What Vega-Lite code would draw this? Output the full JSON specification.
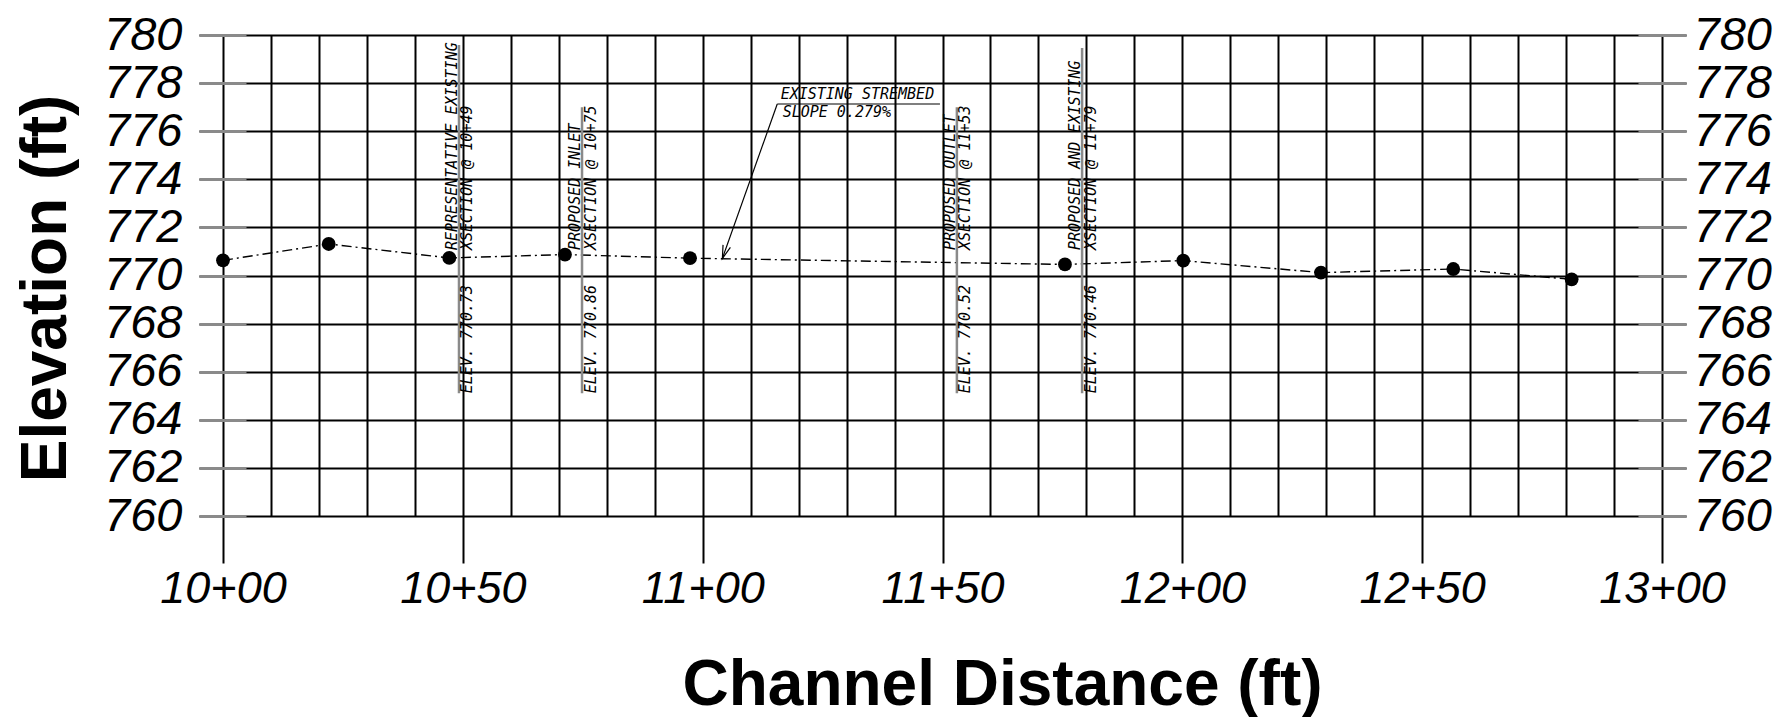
{
  "$schema": "https://vega.github.io/schema/vega-lite/v6.json",
  "width": 1487,
  "height": 481,
  "autosize": {"type": "none"},
  "padding": {"left": 199, "top": 35, "right": 94, "bottom": 201},
  "background": "white",
  "config": {"view": {"stroke": null}},
  "datasets": {
    "profile": [
      {"sta": 1000.0, "elev": 770.63},
      {"sta": 1022.04, "elev": 771.31},
      {"sta": 1047.18, "elev": 770.73},
      {"sta": 1071.3, "elev": 770.87},
      {"sta": 1097.36, "elev": 770.72},
      {"sta": 1175.53, "elev": 770.46},
      {"sta": 1200.19, "elev": 770.62},
      {"sta": 1228.9, "elev": 770.12},
      {"sta": 1256.48, "elev": 770.27},
      {"sta": 1281.16, "elev": 769.84}
    ],
    "stations": [
      {"sta": 1049.2, "top": 779.58, "bottom": 765.1, "start": 771.06, "line1": "REPRESENTATIVE EXISTING", "line2": "XSECTION @ 10+49", "elevText": "ELEV. 770.73"},
      {"sta": 1074.85, "top": 777.0, "bottom": 765.1, "start": 771.06, "line1": "PROPOSED INLET", "line2": "XSECTION @ 10+75", "elevText": "ELEV. 770.86"},
      {"sta": 1153.0, "top": 777.0, "bottom": 765.1, "start": 771.06, "line1": "PROPOSED OUTLET", "line2": "XSECTION @ 11+53", "elevText": "ELEV. 770.52"},
      {"sta": 1179.1, "top": 779.46, "bottom": 765.1, "start": 771.06, "line1": "PROPOSED AND EXISTING", "line2": "XSECTION @ 11+79", "elevText": "ELEV. 770.46"}
    ],
    "note": [
      {"sta": 1116.26, "elev": 777.34, "text": "EXISTING STREMBED"},
      {"sta": 1116.68, "elev": 776.58, "text": "SLOPE 0.279%"}
    ],
    "noteLine": [
      {"sta": 1115.55, "sta2": 1149.47, "elev": 777.13, "elev2": 777.13},
      {"sta": 1115.55, "sta2": 1104.11, "elev": 777.13, "elev2": 770.71}
    ],
    "arrow": [
      {"sta": 1104.11, "elev": 770.71}
    ]
  },
  "resolve": {"axis": {"x": "independent", "y": "independent"}},
  "layer": [
    {
      "data": {"name": "profile"},
      "mark": {"type": "line", "color": "black", "strokeWidth": 1.4, "strokeDash": [10, 4, 2, 4]},
      "encoding": {
        "x": {"field": "sta", "type": "quantitative",
          "scale": {"domain": [995, 1305], "nice": false, "zero": false},
          "axis": {"orient": "bottom", "values": [1000,1010,1020,1030,1040,1050,1060,1070,1080,1090,1100,1110,1120,1130,1140,1150,1160,1170,1180,1190,1200,1210,1220,1230,1240,1250,1260,1270,1280,1290,1300],
            "grid": true, "gridColor": "black", "gridWidth": 2, "gridOpacity": 1,
            "labels": false, "ticks": false, "domain": false, "title": null}},
        "y": {"field": "elev", "type": "quantitative",
          "scale": {"domain": [760, 780], "nice": false, "zero": false},
          "axis": {"orient": "left", "values": [760,762,764,766,768,770,772,774,776,778,780],
            "grid": true, "gridColor": "black", "gridWidth": 2, "gridOpacity": 1,
            "domain": false, "ticks": false,
            "labelFont": "Liberation Sans, Arial, sans-serif", "labelFontStyle": "italic", "labelFontSize": 47, "labelColor": "black", "labelPadding": 17, "labelFlush": false, "labelOverlap": false, "labelBound": false, "format": "d",
            "title": "Elevation (ft)", "titleFont": "Liberation Sans, Arial, sans-serif", "titleFontWeight": "bold", "titleFontSize": 64, "titleColor": "black",
            "titleAngle": -90, "titleX": -134, "titleY": 253, "titleAlign": "center", "titleBaseline": "alphabetic"}}
      }
    },
    {
      "data": {"name": "profile"},
      "mark": {"type": "point", "filled": true, "color": "black", "size": 190, "opacity": 1},
      "encoding": {
        "x": {"field": "sta", "type": "quantitative",
          "scale": {"domain": [995, 1305], "nice": false, "zero": false},
          "axis": {"orient": "bottom", "values": [1000,1050,1100,1150,1200,1250,1300],
            "grid": false, "domain": false, "ticks": true, "tickColor": "black", "tickWidth": 2, "tickSize": 47,
            "labelExpr": "floor(datum.value/100) + '+' + (datum.value % 100 < 10 ? '0' : '') + (datum.value % 100)",
            "labelFont": "Liberation Sans, Arial, sans-serif", "labelFontStyle": "italic", "labelFontSize": 45, "labelColor": "black", "labelPadding": 3, "labelFlush": false, "labelOverlap": false, "labelBound": false, "labelAngle": 0,
            "title": "Channel Distance (ft)", "titleFont": "Liberation Sans, Arial, sans-serif", "titleFontWeight": "bold", "titleFontSize": 64, "titleColor": "black",
            "titleX": 803, "titleY": 188, "titleAlign": "center", "titleBaseline": "alphabetic", "titleAngle": 0}},
        "y": {"field": "elev", "type": "quantitative",
          "scale": {"domain": [760, 780], "nice": false, "zero": false},
          "axis": {"orient": "right", "values": [760,762,764,766,768,770,772,774,776,778,780],
            "grid": false, "domain": false, "ticks": false,
            "labelFont": "Liberation Sans, Arial, sans-serif", "labelFontStyle": "italic", "labelFontSize": 47, "labelColor": "black", "labelPadding": 7, "labelFlush": false, "labelOverlap": false, "labelBound": false, "format": "d",
            "title": null}}
      }
    },
    {
      "data": {"name": "stations"},
      "mark": {"type": "rule", "color": "#8a8a8a", "strokeWidth": 2.5},
      "encoding": {
        "x": {"field": "sta", "type": "quantitative", "scale": {"domain": [995, 1305], "nice": false, "zero": false}, "axis": null},
        "y": {"field": "top", "type": "quantitative",
          "scale": {"domain": [760, 780], "nice": false, "zero": false},
          "axis": {"orient": "left", "offset": -47, "values": [760,762,764,766,768,770,772,774,776,778,780],
            "grid": false, "domain": false, "labels": false, "ticks": true, "tickSize": 47, "tickColor": "#8a8a8a", "tickWidth": 3, "title": null, "zindex": 1}},
        "y2": {"field": "bottom"}
      }
    },
    {
      "data": {"name": "stations"},
      "mark": {"type": "text", "angle": 270, "align": "left", "baseline": "alphabetic", "dy": -2, "font": "DejaVu Sans Mono", "fontStyle": "italic", "fontSize": 15, "color": "black"},
      "encoding": {
        "x": {"field": "sta", "type": "quantitative", "scale": {"domain": [995, 1305], "nice": false, "zero": false}, "axis": null},
        "y": {"field": "start", "type": "quantitative",
          "scale": {"domain": [760, 780], "nice": false, "zero": false},
          "axis": {"orient": "right", "offset": -48, "values": [760,762,764,766,768,770,772,774,776,778,780],
            "grid": false, "domain": false, "labels": false, "ticks": true, "tickSize": 48, "tickColor": "#8a8a8a", "tickWidth": 3, "title": null, "zindex": 1}},
        "text": {"field": "line1"}
      }
    },
    {
      "data": {"name": "stations"},
      "mark": {"type": "text", "angle": 270, "align": "left", "baseline": "top", "dy": 1.5, "font": "DejaVu Sans Mono", "fontStyle": "italic", "fontSize": 15, "color": "black"},
      "encoding": {
        "x": {"field": "sta", "type": "quantitative", "scale": {"domain": [995, 1305], "nice": false, "zero": false}, "axis": null},
        "y": {"field": "start", "type": "quantitative", "scale": {"domain": [760, 780], "nice": false, "zero": false}, "axis": null},
        "text": {"field": "line2"}
      }
    },
    {
      "data": {"name": "stations"},
      "mark": {"type": "text", "angle": 270, "align": "left", "baseline": "top", "dy": 1.5, "font": "DejaVu Sans Mono", "fontStyle": "italic", "fontSize": 15, "color": "black"},
      "encoding": {
        "x": {"field": "sta", "type": "quantitative", "scale": {"domain": [995, 1305], "nice": false, "zero": false}, "axis": null},
        "y": {"field": "bottom", "type": "quantitative", "scale": {"domain": [760, 780], "nice": false, "zero": false}, "axis": null},
        "text": {"field": "elevText"}
      }
    },
    {
      "data": {"name": "note"},
      "mark": {"type": "text", "align": "left", "baseline": "alphabetic", "font": "DejaVu Sans Mono", "fontStyle": "italic", "fontSize": 15, "color": "black"},
      "encoding": {
        "x": {"field": "sta", "type": "quantitative", "scale": {"domain": [995, 1305], "nice": false, "zero": false}, "axis": null},
        "y": {"field": "elev", "type": "quantitative", "scale": {"domain": [760, 780], "nice": false, "zero": false}, "axis": null},
        "text": {"field": "text"}
      }
    },
    {
      "data": {"name": "noteLine"},
      "mark": {"type": "rule", "color": "black", "strokeWidth": 1.2},
      "encoding": {
        "x": {"field": "sta", "type": "quantitative", "scale": {"domain": [995, 1305], "nice": false, "zero": false}, "axis": null},
        "x2": {"field": "sta2"},
        "y": {"field": "elev", "type": "quantitative", "scale": {"domain": [760, 780], "nice": false, "zero": false}, "axis": null},
        "y2": {"field": "elev2"}
      }
    },
    {
      "data": {"name": "arrow"},
      "mark": {"type": "point", "shape": "M-0.3,-1L0,0L0.3,-1", "filled": false, "stroke": "black", "strokeWidth": 1.2, "size": 676, "angle": 19.5, "opacity": 1},
      "encoding": {
        "x": {"field": "sta", "type": "quantitative", "scale": {"domain": [995, 1305], "nice": false, "zero": false}, "axis": null},
        "y": {"field": "elev", "type": "quantitative", "scale": {"domain": [760, 780], "nice": false, "zero": false}, "axis": null}
      }
    }
  ]
}
